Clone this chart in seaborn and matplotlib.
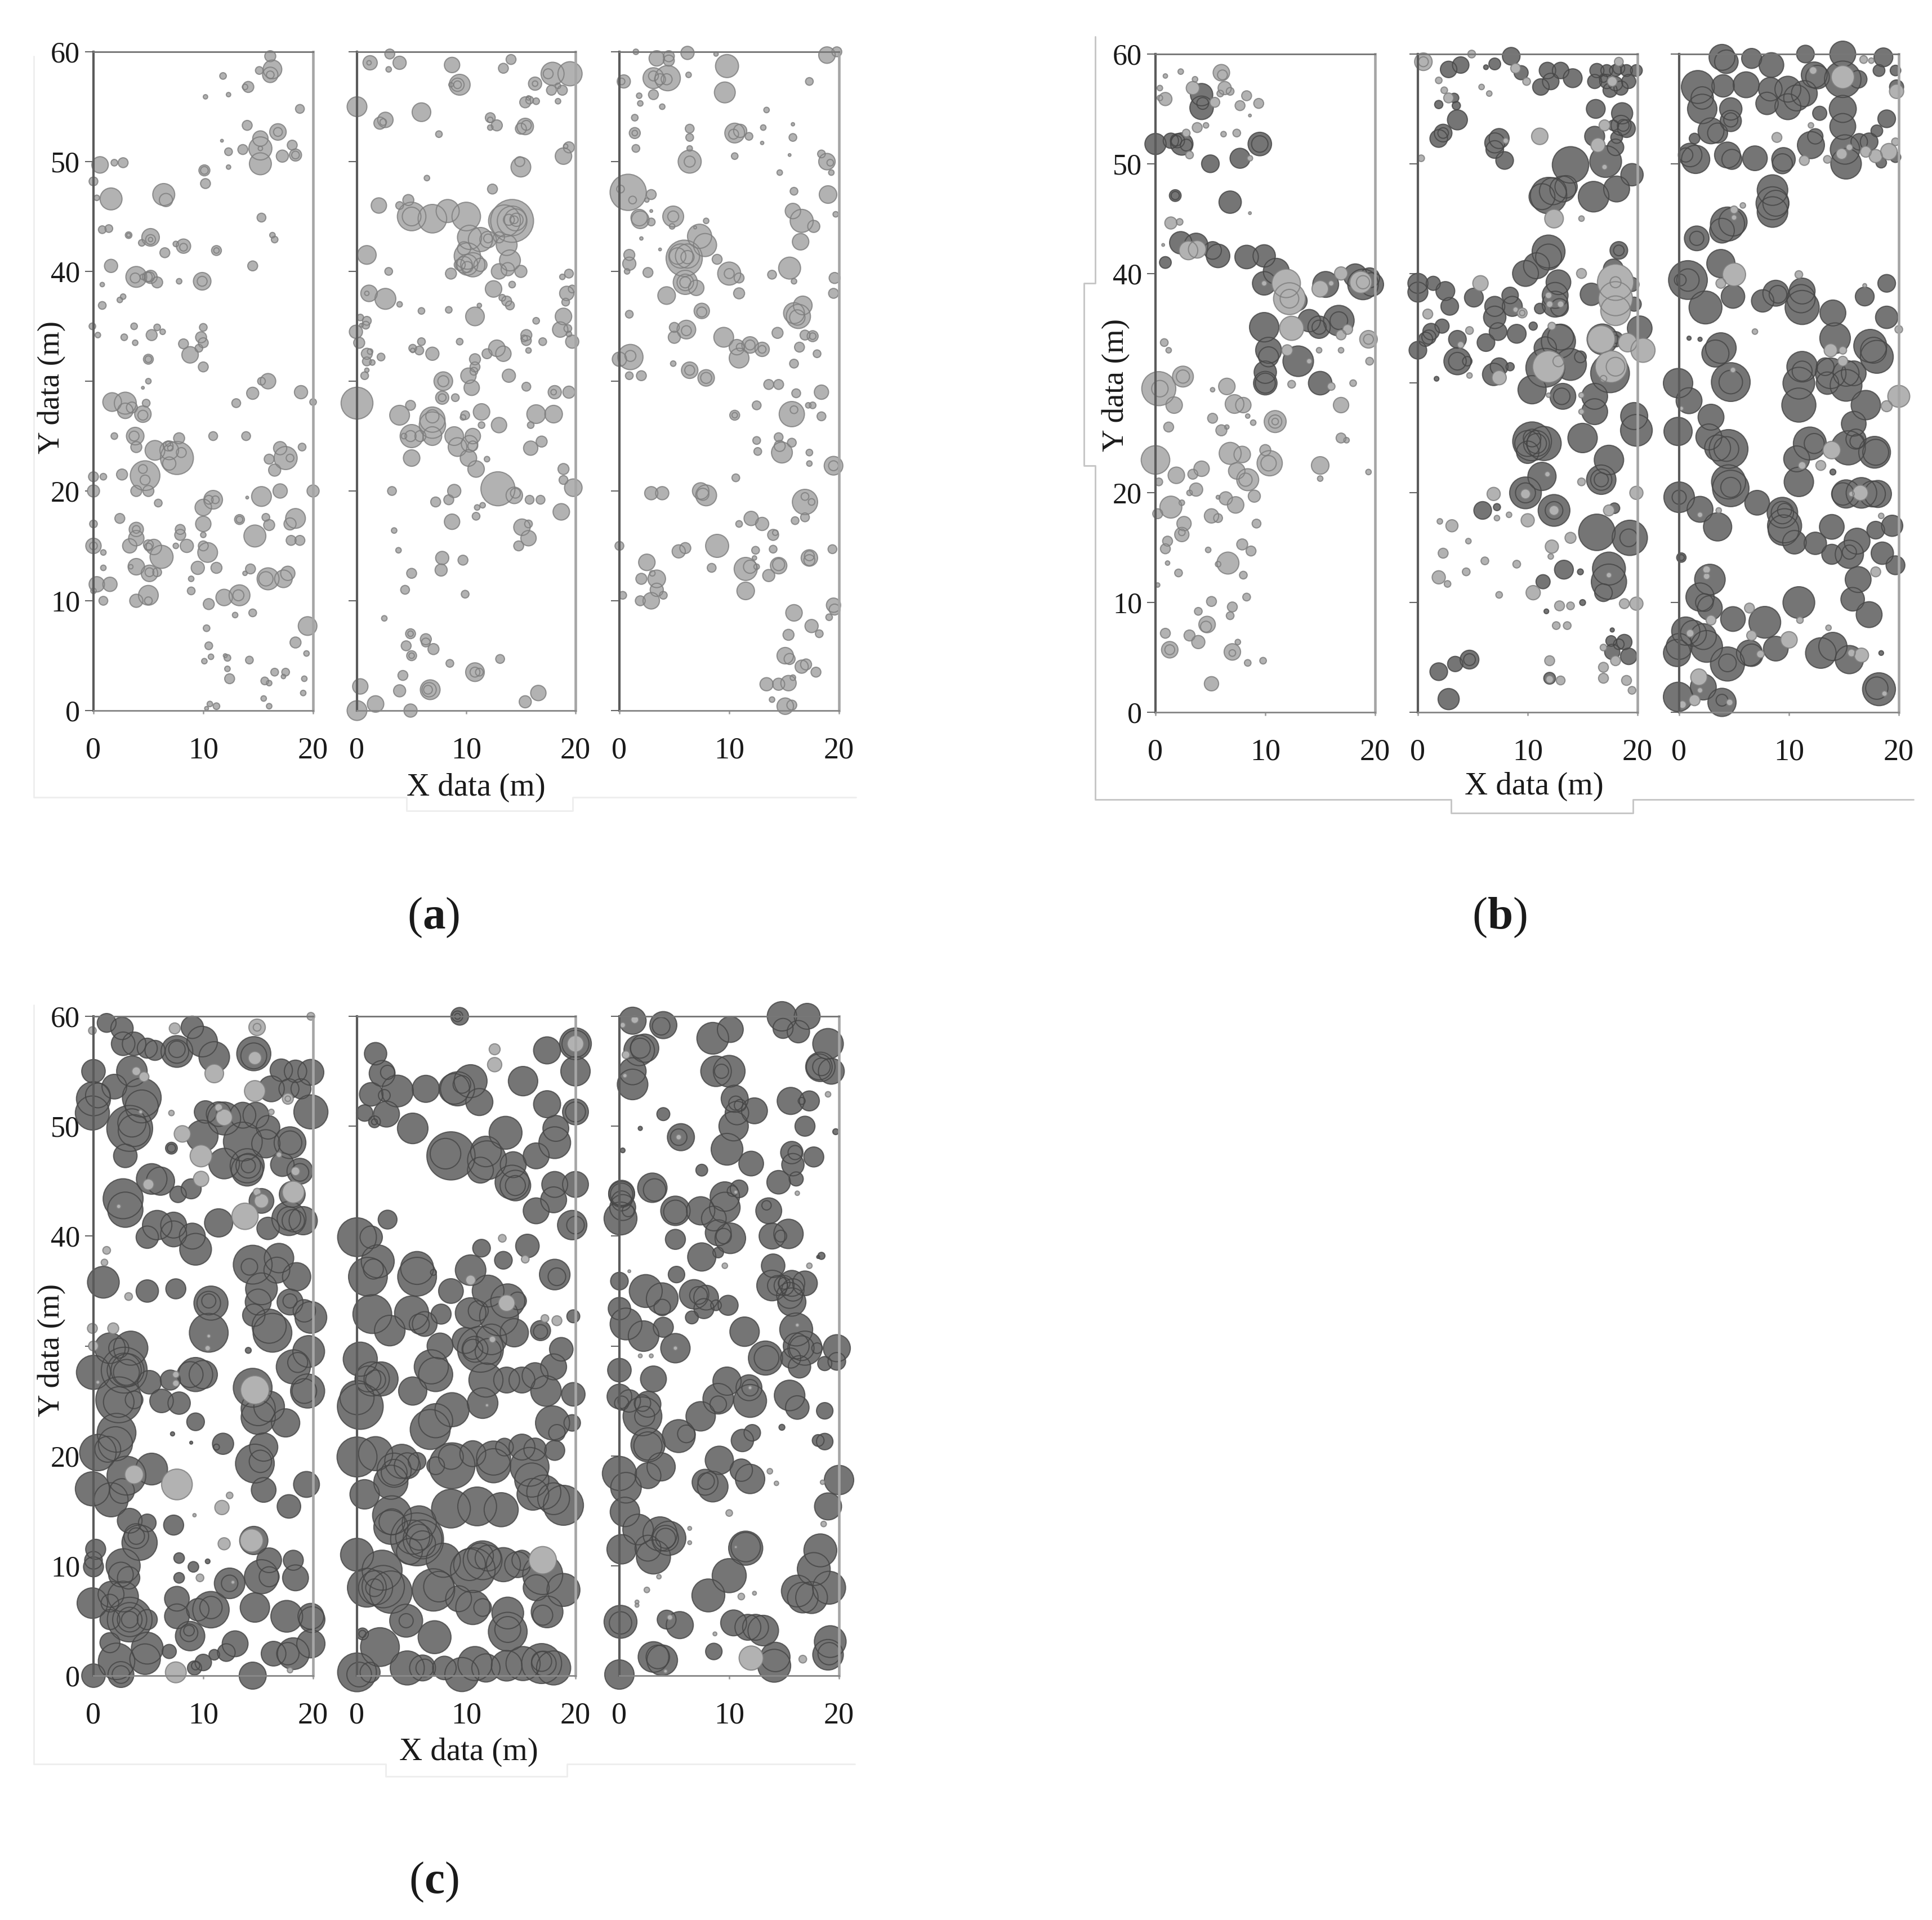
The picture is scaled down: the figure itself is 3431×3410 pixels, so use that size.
import matplotlib
matplotlib.use("Agg")
import matplotlib.pyplot as plt
from matplotlib.lines import Line2D
from matplotlib.patches import Rectangle
import pandas as pd
import seaborn as sns

# every tree is (x in m, y in m, crown diameter in m)
a1_light = [
    (16.1,59.6,1.0),(16.3,58.4,1.7),(16.1,57.9,1.4),(16.1,57.9,.7),(15.1,58.3,.7),(11.8,57.8,.6),(14.1,56.8,1.0),(13.8,56.8,.5),
    (12.3,56.1,.4),(10.2,55.9,.4),(18.8,54.8,.8),(14,53.3,.9),(16.8,52.7,1.5),(16.8,52.7,.8),(15.2,51.2,2.1),(15.2,52.1,1.4),
    (15.2,51.2,.4),(11.7,51.9,.25),(13.6,51.1,.9),(12.3,50.9,.7),(18.1,51.5,.9),(18.4,50.6,1.1),(18.4,50.6,.7),(17.2,50.5,1.1),
    (15.2,49.8,2.0),(12.3,49.5,.4),(.6,49.7,1.5),(1.9,49.9,.6),(2.7,49.9,.9),(10.1,49.2,1.0),(10.1,49.2,.7),(10.2,48.0,.9),
    (0,48.2,.8),(.3,46.7,.5),(1.6,46.6,2.0),(6.4,47,2.0),(6.6,46.5,1.2),(15.3,44.9,.8),(16.3,43.3,.5),(16.5,42.9,.6),
    (.8,43.8,.7),(1.4,43.9,.7),(3.2,43.3,.6),(3.2,43.3,.35),(5.2,43.1,1.6),(5.2,42.9,.9),(5.2,42.9,.4),(4.4,42.6,.6),
    (7.5,42.5,.5),(8.2,42.3,1.3),(8.2,42.2,.7),(6.5,41.7,.9),(11.2,41.9,.9),(11.2,41.9,.5),(14.5,40.5,.9),(1.6,40.5,1.2),
    (3.9,39.5,1.9),(3.8,39.4,.9),(4.5,39.5,.5),(4.9,39.5,.9),(5.1,39.5,.9),(5.2,39.5,1.2),(5.8,39,1.0),(7.8,39.1,.5),
    (9.9,39.1,1.6),(9.9,39.1,.9),(.8,38.8,.4),(2.7,37.7,.5),(2.4,37.4,.5),(.8,36.9,.7),(-.1,35,.6),(.4,34.2,.5),
    (3.7,35,.6),(2.8,34,.6),(3.8,33.5,.5),(5.8,34.9,.6),(5.3,34.2,1.0),(6.3,34.5,.5),(10,34.9,.7),(9.8,34,1.0),
    (10,33.5,.9),(8.2,33.4,.9),(8.8,32.4,1.5),(9.6,33,.7),(5,32,.9),(5,32,.6),(10,31.3,.9),(5,30,.5),(4.5,29.4,.25),
    (15.9,30,1.4),(15.3,30,.7),(14.5,28.9,1.1),(18.9,29,1.2),(13,28,.8),(20,28.1,.6),(1.7,28.1,1.7),(2.9,28,2.0),
    (2.9,27.3,1.4),(3.5,27.6,1),(4.5,27,1.5),(4.5,26.9,.9),(4.8,28,.7),(1.9,25,.6),(3.8,25,1.6),(3.7,25,.9),
    (3.9,24,1.0),(10.9,25,.8),(13.9,25,.8),(7.8,24.8,1),(5.6,23.7,1.8),(6.9,23.7,1.7),(6.8,24.1,.9),(7.6,23,3.0),
    (6.9,22.5,1.2),(8,23.5,.9),(7,23.9,.5),(6.8,24.3,.45),(17,23.9,1.2),(17.5,23,2.1),(17.9,23,.7),(16,22.9,.9),
    (16.5,21.9,1.1),(19,24,.7),(4.7,21.4,2.7),(4.5,22,.8),(4.7,21,.9),(2.6,21.5,1),(0,21.3,.9),(.9,21.3,.6),
    (0,20,1.1),(3.9,20,1),(5,20,1),(5.9,18.9,.7),(15.3,19.5,1.8),(17,20,1.3),(20,20,1.1),(14,19.4,.25),
    (10.9,19.2,1.7),(10,18.5,1.5),(10.5,19.2,.8),(11.1,19.2,.7),(10,17,1.4),(10,16,.5),(13.3,17.4,.9),(13.3,17.4,.6),
    (2.4,17.5,.9),(0,17,.7),(15.7,17.6,.7),(16,16.9,1),(18.4,17.5,1.8),(17.9,17,1.1),(14.7,15.9,2),(18,15.5,.9),
    (18.8,15.5,.9),(3.9,16.5,1.3),(3.9,16.5,.7),(3.9,15.7,1.4),(3.3,15,1.3),(5,15.1,.9),(5.5,14.9,1.4),(6.2,14,2.1),
    (5,14.9,.7),(7.9,16.5,.9),(7.9,16,1),(8.5,15,1.2),(7.5,15,.5),(0,15,1.4),(0,15,.7),(.9,14.4,.5),(10,15,.9),
    (10.4,14.4,1.8),(.9,13,.5),(3.9,13.1,1.5),(3.4,13.1,.4),(5.1,12.5,1.5),(5.1,12.6,.8),(5.8,12.6,.8),(9.5,13,1.2),
    (11.2,13,1),(8.9,12,.5),(8.9,10.9,.7),(14.3,12.9,.9),(13.8,12.5,.4),(15.9,12,2),(15.7,12,1.3),(17.3,12,1.6),
    (17.7,12.5,1.3),(.3,11.5,1.4),(1.5,11.5,1.3),(0,10.9,.5),(13.3,10.5,1.9),(11.9,10.3,1.5),(13.2,10.5,1),(3.9,10,1.2),
    (5,10.5,1.8),(5,10,.7),(.9,10,.8),(10.5,9.7,1),(14.5,8.9,.7),(12.9,8.7,.5),(19.5,7.7,1.7),(18.4,6.2,1),
    (19.4,5.2,.5),(10.3,7.5,.6),(10.5,5.9,.7),(10.7,4.9,.5),(10.1,4.5,.5),(12.2,4.8,.6),(12,5,.35),(12.2,3.8,.5),
    (12.4,2.9,.9),(14.2,4.6,.7),(16.5,3.5,.7),(17.5,3.5,.7),(17.3,3.1,.4),(15.6,2.7,.7),(16,2.5,.5),(19.2,2.9,.5),
    (19.1,1.6,.5),(15.5,1.1,.5),(16,.4,.5),(10.6,.6,.5),(11.2,.4,.6),(10.3,.2,.35),
]
a2_light = [
    (1.2,59,1.3),(1.1,59,.4),(3,59.8,.9),(3.9,59,1.2),(2.9,58.4,.5),(8.7,58.8,1.4),(13.4,58.5,.9),(14.1,59.3,.9),
    (17.9,58,2.1),(19.5,58,2.2),(17.5,58,.9),(9.4,57,1.9),(9.2,57,1.2),(8.6,57,.4),(9.2,57,.7),(16.3,57.1,1.2),
    (16.3,57.1,.5),(17.8,56.5,.9),(18.8,56.5,.9),(18.4,56.9,.5),(18.4,55.5,.5),(0,55,1.8),(5.9,54.5,1.7),(2.6,53.8,1.4),
    (2.1,53.5,1.1),(2.4,53.6,.6),(15.4,55.4,1),(15.8,55.6,.7),(16.4,55.5,.6),(15.7,55.8,.4),(12.2,54,.9),(12.8,53.3,1),
    (12.2,53.1,.5),(12.2,53.8,.5),(15,53,1),(15.4,53.2,1.5),(15.5,53.3,.9),(7.5,52.5,.6),(19.4,51.3,1),(18.9,50.5,1.5),
    (19.1,51.4,.4),(15,49.5,1.8),(14.9,50,.9),(6.4,48.5,.5),(12.4,47.5,.9),(4.7,46.5,1),(3.9,46,.7),(2,46,1.4),
    (5,45,2.6),(5,45,1.7),(6.9,44.8,2.6),(8.3,45.5,2.1),(10,45,2.6),(13.5,44.6,2.9),(14.2,44.6,3.9),(14.2,44.6,2.7),
    (14.5,44.7,2),(14.6,44.7,1.2),(14.4,44.7,.7),(13.9,44.7,1),(10.3,43.1,2.2),(11.3,42.9,2.2),(12,42.9,1.5),(12,43,.8),
    (9.8,42.1,1.2),(10.1,41.4,2.4),(9.8,40.6,1.5),(10.1,40.6,1.9),(10.1,40.4,1),(9.4,40.6,1),(10.6,40.6,2.2),(11.3,40.6,1.2),
    (13,43.1,1),(13.7,42.4,1.9),(14,41,1.9),(13.8,40.2,1.2),(13,40,1.4),(15,40,1.1),(8.6,39.8,1),(.9,41.5,1.7),
    (2.9,40,.7),(14.2,38.8,.6),(1.1,38,1.5),(.9,38,.4),(2.6,37.5,1.9),(3.9,37,.5),(12.5,38.4,1.5),(13.3,37.6,.6),
    (13.7,37.3,.9),(14,36.9,.8),(5.9,36.4,.6),(8.4,36.5,.6),(10.8,35.9,1.7),(11.2,36.9,.4),(19.4,39.8,.8),(18.8,39.5,.5),
    (19.2,38,1.3),(19.7,38.4,.7),(19.1,37.2,.7),(16.4,35.5,.6),(18.9,35.9,1.5),(18.6,34.7,1.4),(19.3,34.8,.7),(19.7,33.6,1.2),
    (19.4,34.3,.5),(.9,35.5,.8),(.8,35.1,.7),(.3,35.8,.6),(-.1,34.5,1.2),(.2,33.5,1),(.4,35.1,.35),(.9,32.5,1),
    (1.2,32.7,.5),(.9,31.8,.8),(1.4,31.7,.5),(2.2,32.2,.7),(.9,31,.4),(.7,30.5,.7),(5.9,33.6,.7),(5.1,33,.7),
    (5.7,32.8,.8),(5.1,32.8,.4),(6.9,32.5,1.2),(9.4,33.6,.6),(12.8,33,1.5),(13.4,32.5,1.4),(11.9,32.5,.9),(10.8,32,1),
    (10.8,31.3,.9),(10.7,30.9,.7),(10.2,30.5,1.4),(15.5,34.2,1),(15.5,33.7,.9),(15.7,32.8,.5),(17,33.6,.7),(15.3,33.9,.6),
    (13.9,30.5,1.2),(15.5,29.5,.8),(10.5,29.4,1.4),(7.9,30,1.7),(7.9,30,1),(7.8,28.5,1.2),(7.8,28.5,.7),(9,28.5,.7),
    (0,28,2.9),(4.9,27.8,.9),(3.9,26.9,1.8),(11.4,27.2,1.5),(9.9,26.9,.8),(9.7,26.7,.5),(13,26,1.4),(11.4,26,.6),
    (16.4,27,1.7),(18,27,1.6),(15.9,26,.6),(18.1,29,1.2),(19.4,29,1.1),(18,29,.5),(6.9,26.5,2.3),(6.9,26.8,1.2),
    (6.9,26,2.4),(6.9,25,1.7),(5,25,2.1),(4.9,25,1),(4.3,25,.5),(5.8,25,1),(5,23,1.5),(8.9,25,1.7),
    (9.2,24,1.7),(10.6,25,1.4),(10.3,24.3,1.5),(10.6,24.1,.9),(10.2,23,1.5),(10.9,22,1.5),(11.9,22.9,.5),(16.9,24.5,1),
    (15.9,23.9,1.3),(18.9,22,1),(18.9,21,.8),(19.8,20.3,1.6),(12.9,20.2,3.1),(14.4,19.6,1.5),(14.5,19.8,.9),(3.2,20,.8),
    (8.9,20,1.2),(8.4,19.2,.9),(7.2,19,.9),(15.8,19.2,.8),(16.8,19.2,.8),(18.7,18.1,1.5),(11.5,18.7,.5),(11,18.5,.5),
    (10.9,17.7,.7),(8.7,17.2,1.4),(3.4,16.4,.5),(15.1,16.7,1.5),(15.7,17,.7),(15.7,15.7,1.4),(14.8,15,.9),(3.8,14.6,.5),
    (7.8,13.9,1.2),(9.7,13.7,.9),(7.7,12.8,1.1),(5,12.5,.9),(4.4,11,.8),(9.9,10.6,.7),(2.5,8.4,.5),(4.9,7,.9),
    (4.9,7,.5),(6.3,6.5,1),(6.3,6.2,.8),(4.5,5.9,.9),(5,5,.9),(5,5,.5),(7,5.6,1),(8.5,4.3,.7),
    (13.1,4.7,.8),(10.8,3.5,1.7),(10.8,3.5,.9),(11.2,3.5,.7),(4.2,3.2,.9),(.3,2.2,1.4),(3.9,1.8,1.1),(6.7,1.9,1.8),
    (6.6,1.9,1.3),(6.5,1.9,.8),(15.4,.8,1.1),(16.6,1.6,1.4),(1.7,.6,1.5),(0,0,1.8),(4.9,0,1.2),
]
a3_light = [
    (3.4,59.4,1.4),(4.5,59.6,1),(4.5,59.2,1),(6.2,59.9,1.2),(1.5,60,.5),(8.8,59.8,.4),(9.8,58.7,2.1),(9.6,56.3,1.9),
    (18.9,59.7,1.5),(19.8,60,.9),(17.3,57.3,.7),(6.3,57.9,.5),(.4,57.3,1.2),(.2,57.3,.6),(3.1,57.6,1.9),(4.4,57.6,2.3),
    (4.3,57.5,1),(3.1,57.8,.9),(3.1,56.1,.9),(3.7,57.5,1),(1.8,56,.5),(1.9,55.3,.5),(3.9,55,.5),(1.4,54,.6),
    (1.4,52.6,1),(1.4,52.6,.5),(1.5,51.2,.7),(6.4,53,.8),(6.4,52.2,.7),(6.4,51.2,.5),(6.4,50,2.1),(6.4,50,1),
    (10.5,52.6,1.8),(11,52.8,1.2),(10.4,52.5,.9),(11.8,52.3,.7),(13.4,54.7,.5),(13.1,53.1,.5),(13,51.7,.3),(10.5,50.5,.6),
    (15.8,53.4,.3),(15.8,52.2,.7),(15.5,50.6,.25),(18.4,50.7,.7),(18.9,50,1.5),(19.2,49.9,.6),(19.3,49,.5),(14.6,49,.5),
    (15.9,47.3,.7),(19,47,1.6),(.8,47.2,3.3),(.1,47.5,.7),(1.2,46.5,.7),(2.9,47,.9),(2.5,46.5,.4),(2.9,45.5,.25),
    (19.7,45.2,.5),(1.8,44.9,1.5),(1.9,44.7,1.6),(2.9,44.5,.7),(4.9,45,1.9),(4.9,45,1),(4.8,44.1,.5),(7.9,44.6,.5),
    (6.9,44,.25),(2,43,.3),(3.7,42,.25),(15.8,45.5,1.4),(16.6,44.6,2.1),(17.7,44.1,1.1),(16.5,42.7,1.5),(7.3,43.2,2.2),
    (7.8,42.4,2.1),(8.9,41.1,.9),(.9,41.5,1),(.9,40.7,1.2),(.7,40,.5),(2.6,39.9,.9),(5.9,41.2,3.3),(6.2,41.4,2.2),
    (6.2,41.3,1.2),(5.6,41.4,2.2),(5.3,41.4,1.5),(10,39.8,2.1),(10,39.8,.9),(10.9,39.4,.9),(10.9,38,1),(13.9,39.7,.8),
    (15.5,40.3,2),(15.9,39.1,.5),(19.6,39.4,1),(19.5,38,.9),(6,39,2.2),(6,39,1.5),(6,39,1),(7,38.5,1.4),
    (4.3,37.8,1.6),(.9,36.1,.7),(7.5,36.4,1.4),(7.5,36.3,.9),(16.7,36.9,1.7),(15.9,36.2,1.9),(16.3,35.9,2.2),(16.2,35.8,1.4),
    (5,34.9,.9),(6.1,34.7,1.7),(6.1,34.6,.9),(5,34,1.1),(9.5,34,1.8),(14.4,34.4,1),(17.6,34.1,1),(16.9,34.2,.9),
    (17.6,34.1,.6),(1,32.2,2.3),(1,32.3,1),(0,32,1.3),(10.7,33.1,1.4),(10.9,32.1,1.8),(11.9,33.3,1.5),(11.9,33.3,.9),
    (13,32.9,1.3),(13,32.9,.7),(11,33.1,.7),(16.4,33.1,.9),(18,32.5,.7),(4.9,31.6,.5),(15.9,31.6,.8),(6.4,31,1.5),
    (6.4,31,.9),(7.9,30.3,1.5),(7.9,30.3,1),(.9,30.5,.7),(2,30.5,.9),(13.6,29.7,.9),(14.5,29.7,.9),(16.1,28.9,.8),
    (18.4,29,1.3),(17.6,27.8,.6),(17.2,27.8,.5),(12.5,27.8,.8),(15.7,27,2.3),(15.9,27.4,.7),(18.4,26.8,.8),(10.5,26.9,.9),
    (10.5,26.9,.5),(12.5,24.6,.7),(12.6,23.6,.7),(14.8,23.5,1.9),(14.5,24.9,.8),(14.6,24.1,1),(15.7,24.4,.8),(17.3,23.5,.6),
    (17.3,22.5,.5),(19.5,22.3,1.7),(19.5,22.3,.9),(10.6,21.2,.7),(2.9,19.8,1.2),(3.9,19.8,1.2),(7.4,20,1.5),(7.9,19.6,1.9),
    (7.6,19.7,1.1),(16.9,19,2.3),(16.9,19.5,.7),(17.5,19,.6),(16.9,17.6,.8),(16,17.3,.7),(12,17.5,1.3),(13,17,1.2),
    (10.9,17,.6),(14,16,1),(14.2,16.2,.5),(0,15,.8),(5.4,14.5,1.2),(6,14.8,1),(8.9,15,2.1),(12.4,14.6,.7),
    (14,14.7,.7),(19.4,14.7,.8),(17.3,13.9,1.5),(17.3,14.1,.9),(17.3,13.7,1),(12.3,13.9,.4),(2.5,13.5,1.5),(2,12,1),
    (3.4,12,1.6),(3,12.5,.5),(3.4,11,1.2),(2.9,10,1.5),(1.9,10,.9),(4,10.5,.7),(.3,10.5,.7),(8.4,13,.8),
    (11.5,12.9,2.1),(11.9,13.1,1.2),(12.5,13.1,.5),(14.5,13.3,1.1),(14.5,13.2,1.5),(13.6,12.3,1.1),(11.5,10.9,1.6),(19.5,9.6,1.3),
    (19.6,9.2,1),(19.1,8.5,.6),(15.9,8.9,1.5),(17.5,7.7,1.2),(18.2,7,.7),(15.4,6.9,1),(15.1,5,1.5),(15.5,4.7,1),
    (16.6,4,1.2),(17,4.2,1),(17.9,3.5,.9),(13.4,2.4,1.2),(14.5,2.4,1.1),(15.4,2.5,1.4),(15.8,3,.5),(13.9,1,.5),
    (15.1,.4,1.5),(15.7,.5,.9),
]
b1_dark = [
    (4.2,56.3,1.9),(4.2,55.1,2),(4.3,55.5,1),(0,51.8,1.8),(1.4,52.1,1.3),(2,52.1,1.2),(2.4,51.8,1.9),(1.9,52.1,.9),
    (2.8,51.7,1),(9.5,51.8,2),(9.5,51.8,1.4),(7.7,50.5,1.7),(5,50,1.5),(1.8,47.1,1),(1.8,47.1,.7),(6.8,46.5,1.9),
    (.9,41,1),(2.3,42.8,1.9),(3.7,42.6,2.0),(5.2,42.1,1.5),(5.7,41.6,2),(8.3,41.5,2),(9.9,41.6,1.9),(11,40.2,2.2),
    (9.9,39.1,2),(12.9,37.5,1.7),(15.5,39,2.2),(18.2,39.8,2),(19.7,39,2),(19.5,39.6,1.7),(18.9,39,2.6),(9.9,35.1,2.5),
    (14,35.7,1.9),(14.9,35.1,1.9),(14.9,35.1,1.2),(16.7,35.7,2.6),(16.7,35.7,1.5),(10.3,33,2.2),(10.3,32.4,1.7),(13,32,2.6),
    (10,31,1.9),(10,30,2),(10,30,1.7),(15,30,2),
]
b1_light = [
    (6,58.3,1.5),(6.1,58.1,.9),(.9,58,.4),(2.3,58.4,.5),(3.6,57.7,.5),(3.4,56.9,1.2),(.4,56.9,.5),(.9,55.9,1.2),
    (.4,56,.5),(6.3,56.9,1.2),(5.9,56.4,.6),(6.8,56.6,.7),(8.3,56.2,.9),(9.4,55.5,.9),(7.7,55.3,.9),(8.6,54.4,.25),
    (5.4,55.6,.9),(3.8,53.3,.9),(4.6,53.5,.5),(6.2,52.7,.5),(7.4,52.8,.7),(3.1,50.8,.7),(2.8,52.8,.7),(8.6,50.5,.5),
    (8.6,45.5,.25),(1.4,44.6,1.1),(2.2,44.7,.6),(.7,42.6,.25),(3,42.1,1.7),(3.8,42.2,1.6),(9.9,39.1,.5),(11.9,39.1,2.6),
    (12.2,37.7,2.9),(12.2,37.7,1.7),(15,38.6,1.5),(16,39.1,.5),(16.9,40,1.2),(18.7,39.2,2),(18.9,39.2,1.2),(12.4,35,2.2),
    (17.5,34.9,.9),(16.9,34.4,.9),(19.4,34,1.6),(19.4,34,.9),(.8,33.7,.7),(1.2,33,.5),(12,33,1),(14,32,.5),
    (14.9,33,.5),(16.9,33,.5),(19.5,32,.7),(12.4,29.9,.7),(16,29.7,.7),(18,30,.6),(.3,29.5,3.1),(.4,29.5,1.5),
    (2.5,30.6,1.9),(2.5,30.6,1.2),(1.7,28,1.5),(5.2,29.4,.4),(6.5,29.7,1.5),(7.2,28.1,1.7),(8,28,1.4),(5.2,26.8,.9),
    (8.4,27,.4),(8.9,26.4,.5),(10.9,26.5,2),(10.9,26.5,1.2),(10.9,26.5,.6),(1.2,26,.9),(6,25.7,1),(6.5,26,.4),
    (16.9,28,1.4),(16.9,25,.9),(17.4,24.8,.5),(0,23,2.6),(6.8,23.6,2),(7.9,23.5,1.5),(10,23.9,1),(10.4,22.7,2.3),
    (10.3,22.7,1.4),(15,22.5,1.6),(15,21.3,.5),(19.4,21.9,.5),(1.9,21.6,1.5),(4.2,22.2,1.4),(3.4,21.7,.9),(.3,21,.7),
    (3.7,20.3,1.2),(3.1,20,.5),(7.4,22,1.5),(8.4,21.2,2),(8.2,21.2,1.2),(9,19.7,1.1),(6.4,19.5,1.2),(5.7,19.6,.35),
    (7.3,18.9,1.5),(1.4,18.7,2),(2.4,19.1,.5),(5.1,17.9,1.3),(5.7,17.7,.8),(.2,18.1,.9),(9.2,17.2,.8),(2.6,17.2,1.3),
    (2.4,16.2,1.3),(2.4,16.4,.6),(1.1,15.6,.9),(.9,14.9,.9),(1.1,13.6,.4),(2.1,12.7,.7),(.2,11.6,.4),(4.8,14.8,.5),
    (7.9,15.3,1),(8.7,14.7,.9),(6.6,13.6,2),(5.7,13.5,.5),(8,12.5,.7),(8.3,10.5,.7),(5.1,10.1,.9),(7,9.6,.9),
    (6.8,8.8,.7),(3.9,9.2,.7),(4.7,8,1.5),(4.6,7.8,1),(3.1,7,1),(3.9,6.4,1.2),(.9,7.2,.9),(1.3,5.7,1.5),
    (1.3,5.7,.9),(7,5.5,1.5),(7,5.4,.6),(7.5,6.4,.5),(8.4,4.5,.6),(9.8,4.7,.6),(5.1,2.6,1.3),
]
b2_dark = [
    (2.8,58.6,1.4),(3.9,59,1.4),(8.5,59.8,1.5),(7,59.1,1),(6.2,58.8,.4),(9.4,58.3,1.2),(11.8,58.5,1.4),(13,58.5,1.4),
    (12.1,57.5,1.4),(14.1,57.8,1.6),(11.2,57,1.4),(3.3,56,.8),(1.9,55.4,.7),(3.5,55.3,.7),(3.6,54,1.7),(2.3,52.8,1.5),
    (1.9,52.3,1.5),(2.3,52.8,.9),(7,51.9,1.7),(7.4,52.3,1.7),(7,51.3,1.5),(7.9,50.3,1.5),(16.3,58.5,1.2),(16.1,57.5,1.2),
    (17.2,58.5,1),(17.2,57.5,1.2),(18,58.5,1),(18,57.3,1.2),(18.3,58.7,1),(19,58.5,1),(19.2,57.5,1.2),(19.9,58.5,1),
    (18.5,56.9,1.2),(17.5,56.7,1.2),(16.9,57.8,.7),(16.2,55,1.6),(18.6,54.6,1.8),(16.1,52.5,1.7),(18.5,53.5,1.7),(18.7,53.5,1),
    (17.8,53.5,.9),(19,53.2,1.5),(18.1,52.4,1),(18,51.5,1.4),(17.1,50.2,2.7),(13.9,49.9,3.1),(19.5,49,1.9),(11.9,47.1,3.1),
    (11.3,47,2.2),(12.3,47.5,2.3),(13.2,47.7,2.2),(13.5,47.9,1.9),(16,47,2.6),(18.1,47.7,2.2),(11.9,42,2.8),(11.9,41.5,2.2),
    (10.8,40.7,2.2),(9.8,40,2.2),(18.3,42.1,1.5),(18.3,42.1,.9),(0,39.1,1.7),(0,38.3,1.7),(1.4,39.1,1.2),(2.5,38.4,1.6),
    (5.1,37.8,1.6),(2.9,37,1.5),(12.8,39.2,2.1),(12.5,38,2.2),(12.5,37.2,2.2),(12.9,36.9,1.5),(11.1,36.8,.9),(10.5,35.2,.7),
    (7,37,1.7),(7,36,1.9),(8.4,38,1.4),(8.6,37,1.7),(15.8,38.1,1.9),(17.8,40.4,1.7),(19.5,39,1.2),(19.7,37.2,1.2),
    (18,36.4,1.7),(20.2,35,2.1),(16.8,34,2.6),(18,34,1.3),(18,34,.7),(17.5,30.9,3.3),(17.7,31.7,1.7),(16.8,31.5,.9),
    (2.2,35.2,1.2),(1.2,34.7,1.4),(.7,34,1.2),(3.6,34,1.5),(0,33,1.5),(1,34.2,1.2),(7.3,34.7,1.5),(6.2,33.7,1.5),
    (9,34.5,1.6),(3.6,32,2.3),(3.6,32,1.5),(4.5,32,.8),(1.7,30.4,.4),(7.4,31.5,1.5),(6.9,30.8,1.9),(8.4,31.5,.7),
    (12.8,33.8,2.9),(11.6,33.2,1.9),(13,34.2,2.2),(11.6,31.4,3.3),(13.9,31.7,2.7),(14.8,32.4,1),(10.4,29.4,2.4),(13.2,28.8,2.2),
    (13.1,28.8,1.4),(16.1,28.8,2.2),(16.1,27.4,2.2),(19.7,27,2.3),(19.9,25.7,2.7),(10.4,24.7,3.3),(10.8,24.5,2.2),(10.4,25,1.5),
    (10.8,24.5,1.7),(11.5,24.5,2.9),(10,24.5,2.2),(10,23.7,1.9),(15,25,2.5),(17.4,23,2.5),(11.3,21.5,2.4),(9.8,20,2.7),
    (9.8,20,1.7),(16.7,21.2,1.8),(16.7,21.2,2.5),(16.7,21.2,1.2),(7.2,18.7,.6),(5.9,18.4,1.5),(12.4,18.4,2.7),(12.4,18.4,1.5),
    (17.9,18.6,.9),(16.3,16.4,3.1),(19.3,15.9,3),(19.2,15.9,1.5),(14.8,12.8,.5),(13.3,13,1.6),(11.4,11.9,1.2),(17.4,13.1,2.8),
    (17.4,11.9,3),(16.9,10.9,1.5),(15,10,.5),(11.7,9.2,.4),(17.7,7.5,.35),(17.6,6.5,.9),(18.8,6.4,1.3),(17.7,5.5,1.3),
    (19.2,5.1,1.4),(18.3,6.2,.9),(12,3.1,1),(4.7,4.8,1.6),(4.7,4.8,1),(3.4,4.4,1.3),(1.9,3.7,1.5),(2.8,1.2,1.8),
]
b2_light = [
    (.5,59.3,1.6),(.5,59.3,.9),(4.9,60,.7),(8.9,58.7,.9),(9.9,57.5,.7),(1.9,57.6,.6),(2.4,56.7,.6),(5.8,57,.5),
    (6.5,56.4,.5),(2.8,56,.9),(8,52.1,.5),(11.1,52.5,1.5),(.3,50.5,.6),(17.7,57.5,.9),(18.3,59.3,.8),(17,53.5,1),
    (16.4,51.7,1.3),(17,49.7,.5),(12.4,45,1.7),(14.9,45,.5),(14.9,40,.9),(5.7,39.1,1.4),(.9,36.3,.9),(11.9,38,.6),
    (13,37.2,.6),(12,37.2,.6),(12.2,35.2,.7),(9.5,36.4,.9),(8.9,36.7,.5),(18,39.2,3.3),(18,39.2,1),(18,37.7,3.1),
    (18,36.6,2.7),(16.7,34,2.5),(20.5,33,2.2),(19.1,33.7,1.7),(17.6,31.5,2.9),(18,31.5,1.7),(16.9,30.4,.6),(4.7,34.8,.7),
    (3.9,33.5,.6),(9.5,36.4,.5),(7.4,30.5,1.3),(4.7,30.7,.5),(11.9,31.5,2.9),(12.8,32,1),(11.9,28.9,.4),(14.9,28.9,.5),
    (14.9,27.4,.5),(9.8,19.9,.9),(11.8,21.7,.5),(14.9,21,.7),(19.9,20,1.2),(6.9,19.9,1.2),(7.2,17.7,.5),(8.3,18,.5),
    (10,17.5,1.2),(12.4,18.4,.9),(17.4,18.4,1),(3.1,17,1.1),(2,17.4,.5),(13.9,15.9,1),(4.6,15.6,.5),(12.2,15.1,1.2),
    (12.1,14.2,.5),(2.3,14.5,.9),(6.1,13.8,.7),(9,13.5,.7),(4.4,12.8,.7),(1.9,12.3,1.2),(2.7,11.7,.6),(17.4,12.5,.5),
    (10.5,10.9,1.3),(7.4,10.7,.6),(18.8,9.9,.9),(19.9,9.9,1.2),(12.9,9.7,.9),(13.9,9.7,.7),(12.6,7.9,.7),(13.6,7.9,.7),
    (16.9,5.9,.6),(18,4.7,.9),(12,4.7,.9),(16.9,4.1,.9),(12,3,.7),(13,2.9,.8),(16.9,3.1,.9),(19,2.9,.9),
    (19.5,2,.7),
]
b3_dark = [
    (3.9,59.7,2.2),(4.3,59.3,2),(6.6,59.6,1.7),(8.4,59,2.1),(11.5,60,1.5),(14.9,60,2.2),(18.6,59.7,1.6),(18.2,58.5,1),
    (19.7,58.5,.9),(19.8,57,1.2),(1.7,57,2.8),(2.1,56,1.9),(4,57.1,1.9),(2.1,55,2.5),(4.7,55,1.9),(4.7,53.9,1.8),
    (4.7,54,1.2),(6.1,57.2,2.2),(8.3,56.8,2),(8,55.5,1.9),(9.9,56.8,2.2),(9.9,55.2,2.2),(10.7,56,2.2),(12.3,58.1,2.2),
    (11.4,56.4,2.2),(12.6,57.9,2),(12.8,54.6,1.2),(14.9,55,2.3),(14.9,57.7,3.1),(16.3,57.7,1.5),(14.9,53.4,2.2),(18.9,54.1,1.5),
    (18,53,1),(2.9,53,2.2),(3.5,52.8,1.7),(1.4,52.3,.9),(1,50.8,2),(1.5,50.4,2.4),(.6,50.8,1.2),(4.4,50.8,2.2),
    (4.8,50.4,1.7),(6.9,50.5,2.1),(9.5,50.4,2),(9.4,50,1.7),(12,51.7,2.3),(12.4,52.5,1.3),(15.1,51.3,2.5),(15.2,50,2.6),
    (16.4,52,1.4),(17.3,52,1.5),(19.7,50.6,.9),(18.4,50.1,.9),(8.5,47.6,2.6),(8.5,46.4,2.8),(8.5,45.6,2.6),(8.8,46.4,2.2),
    (4.9,44.7,2.4),(4.4,44.5,2.9),(3.9,43.9,2.1),(1.6,43.2,2.1),(1.6,43.2,1.2),(3.8,40.9,2.4),(.8,39.4,3.3),(.8,39.4,1.9),
    (.1,39.4,1),(4.9,37.9,2),(2.4,36.9,2.8),(8.8,38.2,2.2),(9,38.1,1.5),(7.6,37.5,1.9),(11.2,38.4,2.2),(11.1,37.7,2.4),
    (11.2,36.9,2.9),(14,36.4,2.2),(18.9,39.1,1.5),(16.9,37.9,1.6),(18.9,36,1.9),(.9,34.1,.35),(1.9,34,.35),(3.8,33.2,2.6),
    (3.3,32.7,2.3),(4.7,30.1,3.3),(4.7,30.1,2),(14.2,34.1,2.6),(17.4,33.4,2.8),(17.7,33,2.2),(18,32.4,2.8),(11.2,31.5,2.6),
    (11.2,31.1,1.7),(10.9,30,2.7),(10.9,28,2.9),(13.3,31.5,1.5),(13.8,30.9,2.6),(15.2,30.9,2.2),(15.2,29.8,2.7),(13.5,30,1.9),
    (15.9,30.9,2.1),(17,28,2.5),(-.1,30,2.5),(.9,28.4,2.2),(2.9,26.9,2.2),(-.1,25.6,2.4),(2.7,25.1,2.2),(3.5,24.1,2.2),
    (4.3,24,2.1),(4.5,24,3.3),(15.9,26.3,2.1),(11.9,24.5,2.8),(12.3,24.5,1.7),(10.7,23.1,2.2),(15.4,24.1,2.9),(16.1,24.9,1.7),
    (16.2,24.7,1.2),(17.9,23.7,2.2),(17.8,23.7,2.7),(14,21.9,.5),(10.9,21,2.5),(4.5,21,2.9),(4.7,20.5,1.7),(4.7,20.4,3.1),
    (0,19.6,2.6),(0,19.6,1.2),(1.9,18.5,2.2),(3.5,16.9,2.4),(7.1,19.1,2.1),(9.4,18.2,2.6),(9.4,18.2,1.9),(9.6,18.4,1.2),
    (9.6,17,2.9),(9.5,16.6,2.6),(10.5,15.5,2),(14.9,19.9,1.9),(15.2,19.9,2.4),(16.6,20,2.6),(18.1,19.9,2.3),(17.6,19.9,2.2),
    (13.9,16.9,2.1),(16.2,15.6,2.2),(12.4,15.4,1.9),(13.9,14.4,1.7),(15.5,14.4,2.4),(15.5,14.6,1.2),(17.9,16.6,1.5),(19.4,17,1.8),
    (18.5,14.5,1.9),(19.7,13.4,1.6),(.2,14.1,.8),(.2,14.1,.5),(2.8,12.1,2.6),(1.9,10.5,2.4),(2.3,10,1.5),(2.8,9.5,2.1),
    (16.3,12.1,2.2),(15.8,10.3,2),(17.3,8.9,2.2),(10.9,10,2.7),(4.9,8.5,2.1),(7.8,8.2,2.7),(.6,7.4,2.4),(1.3,7.2,2.2),
    (2.2,6.9,2.2),(-.2,5.4,2.3),(0,6,2.2),(2.5,6,2.7),(4.4,4.4,2.9),(4.4,4.5,1.5),(6.4,5.4,2.2),(8.8,5.8,2.1),
    (6.6,5.2,1.9),(12.9,5.4,2.6),(14,6,2.4),(15.5,4.8,2.4),(18.4,5.4,.4),(2.2,2.3,2.2),(-.1,1.4,2.5),(3.9,.9,2.4),
    (3.9,1.1,1),(18.2,2.1,2.8),(18,2.2,1.9),
]
b3_light = [
    (14.9,57.9,2.1),(12.2,58.5,.7),(16.8,59.5,.7),(17.5,59.4,.5),(19.8,56.6,1.3),(8.9,52.4,.9),(11.4,50.3,.9),(12,53.5,.5),
    (13.5,50.4,.7),(14.8,50.9,1),(15.5,51.5,.6),(17,51.1,1),(17.9,50.7,1.2),(19.1,51.1,1.5),(19.7,52,.7),(5.8,46.2,.5),
    (5,45.8,.7),(5,45.1,.5),(5,39.9,2.1),(3.8,39.1,.9),(10.9,39.9,.7),(6.9,34.7,.5),(20,34.9,.7),(16.9,38.9,.35),
    (4.9,31.2,.5),(13.8,33,1.2),(14.9,33,.7),(14.9,32,.9),(.2,27.7,.4),(20,28.8,2),(18.9,27.9,1),(13.9,23.9,1.6),
    (12.9,22.5,.9),(11.2,22.5,.7),(16.5,20,1.4),(15.7,19.9,.5),(1.9,18,.5),(3.6,18.4,.5),(18.4,17.9,.5),(2.5,13,.7),
    (2.5,12.4,.6),(2.9,8.4,.9),(6.4,9.5,.9),(11,8.4,.6),(13.6,7.7,.5),(17.9,12.8,.9),(1,7.2,.7),(6.6,7,.9),
    (7.4,5.3,.7),(10,6.6,1.5),(15.7,5.4,.7),(16.6,5.2,1.3),(1.8,3.2,1.5),(1.9,2,.5),(1.4,1.1,1),(.3,.7,.7),
    (4.6,.9,.6),(18.7,1.7,.5),
]
c1_dark = [
    (1.2,59.4,1.6),(2.6,58.9,1.9),(2.7,57.5,2),(3.7,57.5,2),(4.9,57.1,1.7),(5.6,56.9,1.7),(9,59,1.9),(7.6,56.8,2.7),
    (7.6,56.8,2),(7.6,57,1.4),(9.9,57.7,2.6),(11,56.3,2.6),(14.6,56.6,2.9),(14.6,56.4,2.2),(0,55,2),(3.5,55,2.6),
    (17.1,55.1,1.9),(18.4,55,1.9),(19.8,54.9,2.2),(16.2,53.4,2.2),(17.8,53.4,1.7),(18.9,53.4,1.7),(0,52.5,2.9),(.4,52.8,2.1),
    (-.1,51.2,2.9),(1.9,53.6,2.1),(4.4,52.6,3.3),(4.4,51.8,2.8),(19.8,51.3,2.9),(3.3,49.8,3.9),(3.5,50.3,2.4),(3.7,49.6,2.7),
    (2.9,47.3,2),(7.1,48,1),(7.1,48,.7),(10.2,51.3,1.9),(11.4,51.1,2.1),(11.9,50.7,2.8),(13.6,51,2.2),(14.8,51,2.2),
    (15.9,49.9,2),(9.9,49.1,2.7),(13.6,48.6,3.3),(15.7,48.4,2.4),(17.9,48.5,2.7),(17.9,48.5,2),(11.9,46.6,2.6),(14,46.4,2.9),
    (14.1,46.4,2.1),(14.1,46.4,1.2),(14,46,2.7),(17.2,46.5,2),(18.8,45.9,2.2),(18.8,45.8,1.5),(5.3,45.2,2.6),(6.1,45,2.4),
    (7.7,43.8,1.4),(8.9,44.3,1.7),(2.7,43.4,3.4),(2.9,42.4,3),(15.3,43.2,2.1),(18.1,43.8,2.2),(17.8,41.6,2.9),(17.8,41.6,2),
    (19.1,41.4,2.4),(18.2,41.4,1.9),(15.9,40.7,1.9),(5.8,41,2.5),(4.9,39.9,1.9),(7.3,41,2.2),(7.3,40.2,2.2),(9,40,2.2),
    (9.3,38.8,2.7),(11.4,41.2,2.4),(.9,35.8,2.7),(4.9,35,1.9),(7.5,35.2,1.7),(14.5,37.4,3.3),(14.2,37.2,1.4),(16.9,38,2.5),
    (16.7,36.9,2.2),(18.5,36.3,2.4),(15.3,35.2,2.7),(15,34,2.2),(14.6,32.8,1.9),(17.9,34,2.2),(17.9,34.1,1.2),(16,31.8,2.9),
    (16.3,31.2,3.3),(19.8,32.6,2.7),(19.2,33.2,1.9),(10.7,33.9,2.9),(10.5,33.9,2),(10.5,34.1,1.2),(10.5,31.2,3.3),(14.1,29.6,.5),
    (1.5,29.8,2.6),(2.3,29.8,1.7),(3.4,29.8,2.9),(0,27.6,2.9),(3.1,27.8,2.8),(2.8,27.8,3.9),(2.8,27.8,2.9),(3,27.6,2.2),
    (5.1,26.7,2),(7,26.9,1.7),(8.8,27.4,2.2),(9.3,27.4,2.9),(10,27.4,2.4),(19.6,29.5,2.7),(18.2,28.1,2.9),(18.6,28.5,1.7),
    (19.5,25.9,2.9),(19.2,25.9,2.1),(2.3,25.1,3.9),(2.3,24.9,2.6),(3.7,25.1,1.5),(6.2,25,2),(7.8,24.8,1.9),(9.3,23.1,1.5),
    (7.2,22,.35),(8.9,21.2,.25),(11.8,21.1,1.8),(11.2,20.8,.5),(14.5,26.2,3.3),(15,24.3,2.9),(16,24.5,2.6),(15,23.5,2.9),
    (17.5,23,2.4),(15.5,20.8,2.4),(14.7,19.3,3.3),(15.2,19.5,1.9),(2.1,22.1,3.3),(2,21.1,2.9),(.4,20.3,3.1),(1.3,20.6,2.2),
    (-.1,17,2.9),(3,18.2,3.3),(5.3,18.8,2.7),(1.6,16,2.9),(2.6,16.8,2.1),(15.5,16.9,2.1),(17.8,15.4,2),(19.4,17.4,2.2),
    (7.3,13.7,1.7),(3.3,14.1,2.1),(3.9,12.7,2.1),(4.2,12.1,3),(3.9,12.7,1.4),(4.9,13.9,1.5),(.2,11.5,1.7),(0,10.5,1.5),
    (0,9.9,1.7),(14.6,12.3,2.4),(2.7,10,2.9),(3.2,8.9,1.9),(2.5,9.2,2.1),(7.8,10.7,.9),(9.1,9.9,.9),(10.4,10.4,.4),
    (7.8,8.9,.9),(16,10.5,2.1),(15.3,9,2.9),(16,9,1.7),(18.2,10.5,1.7),(18.4,8.9,2.2),(12.4,8.4,2.6),(12.4,8.4,1.4),
    (-.1,6.6,2.6),(1.6,7.4,2.2),(2.7,7.2,2.6),(1.5,6.6,1.5),(3.3,5.1,3.8),(3.3,5.1,2.9),(3.3,5.1,2.1),(3.3,5.1,1.4),
    (4.9,5.1,1.7),(1.5,5.1,1.7),(7.6,7,2.1),(7.6,5.4,2.1),(10.7,6,3.1),(10.7,6.2,1.9),(9.5,6,1.9),(8.8,3.6,2.5),
    (8.7,3.9,1.5),(8.7,4.1,.9),(14.7,6.2,2.5),(17.6,5.4,2.7),(19.8,5.4,2.2),(19.9,5.1,2.2),(1.5,3,1.7),(4.9,2.5,2.7),
    (6.9,2.2,1.2),(12.9,2.9,2.2),(12.1,2.1,1.5),(11,1.9,.9),(16.4,2,2.1),(18.2,2,2.7),(17.7,2,1.9),(19.8,2.9,2.4),
    (2.1,1.3,3.1),(4.7,1.5,2.6),(2.5,.1,2.2),(2.5,.1,1.5),(0,0,2),(9.2,.7,1.2),(10,1.2,1.4),(9.3,.9,.7),
    (14.5,0,2.3),
]
c1_light = [
    (7.4,58.9,1),(-.1,58.7,.7),(14.9,59,1.5),(14.9,59,.7),(19.8,60,.7),(11,54.8,1.7),(14.7,56.2,1.2),(3.9,55,.8),
    (4.6,54.5,.9),(17.7,52.5,1),(17.7,52.5,.5),(14.7,53.2,1.9),(16.2,51.3,.5),(4.3,51.3,.35),(7.1,51.2,.5),(8.1,49.3,1.5),
    (11.9,50.8,1.5),(11.4,51.7,.7),(9.8,47.3,2),(16.9,47.4,.5),(18.4,45.9,.8),(5,44.7,1),(9.8,45.2,1.4),(2.3,42.7,.4),
    (15.3,43.2,1.3),(14.9,44,.7),(18.2,44,2),(13.8,41.8,2.4),(1.2,38.7,.7),(1,37.6,.6),(3.2,34.5,.7),(10.5,30.9,.35),
    (10.4,29.8,.5),(-.1,31.6,.9),(1.8,31.6,1),(0,30,.9),(.4,26.7,.35),(7.5,27.4,.6),(7.5,26.6,.6),(14.7,26,2.6),
    (3.7,18.3,1.7),(7.6,17.4,2.8),(12.4,16.4,.6),(11.7,15.3,1.3),(11.9,12,1.1),(14.4,12.3,2.1),(9.7,8.9,.7),(12.7,8.5,.35),
    (17.9,.5,.5),(7.5,.3,1.9),(9.2,14.6,.3),
]
c2_dark = [
    (9.4,60,1.5),(9.2,60,.9),(9.2,60,.5),(1.7,56.6,1.9),(17.4,56.9,2.3),(20,57.5,2.7),(20,57.5,2.3),(20,55,2.5),
    (2.3,54.8,2.2),(2.8,54.9,1.2),(3.7,53.2,2.7),(1.3,52.9,2),(2.5,52.8,1),(6.3,53.4,2.3),(8.9,53.4,2.6),(9.6,53.8,1.5),
    (10.4,54.1,2.8),(9.2,53.4,2.9),(11.2,52.2,2.3),(15.2,54.1,2.5),(17.4,52,2.3),(20,51.3,2.2),(20,51.3,1.7),(18.2,49.8,2.2),
    (18.1,48.5,2.7),(16.4,47.3,2.2),(.7,51.2,1.4),(2.7,51.1,2.2),(1.6,50.4,1),(1.6,50.4,.5),(5.1,49.8,2.6),(13.6,49.4,2.8),
    (8.6,47.3,4.1),(8.1,47.5,2.6),(11.8,47.7,2.6),(11.9,46.9,3.3),(11.3,46,2.2),(14.3,46.5,2.2),(14.2,44.9,2.9),(14.5,44.6,2.6),
    (14.5,44.6,1.7),(18.1,44.7,2.2),(20,44.7,2.2),(18,43.3,2.2),(16.4,42.3,2.2),(19.7,41,2.5),(20,41,1.5),(2.8,41.5,1.6),
    (0,39.9,3.3),(1.3,39.9,1.9),(11.4,38.9,1.5),(15.6,39.1,2),(13.4,37.8,1.5),(18.1,36.5,2.6),(18.3,36.3,1.5),(1.9,37.7,2.8),
    (1,36.3,3.3),(1.5,37,1.7),(5.5,37.1,2.8),(5.5,36.3,3.3),(7,36.7,.5),(10.4,36.9,2.6),(8.6,35,2.1),(12,35,2.7),
    (13.8,34.1,2.9),(14.7,34.1,1.5),(10.4,33,2.6),(11.1,33.2,1.7),(13,32.7,3.3),(1.4,32.9,3.3),(5,33,2.9),(3,31.4,2.6),
    (6.2,32,2.1),(7.7,32.9,1.7),(5.7,32,1.7),(19.8,32.7,1.1),(16.8,31.4,1.7),(16.8,31.3,1.2),(12.3,30.6,2.6),(14.4,31.2,2.4),
    (7.6,30,2.2),(9.9,30.5,2.2),(11.3,29.7,3.9),(10.8,29.7,2.2),(10.6,29.7,1.7),(12,29.5,2.2),(18.7,29.7,2),(18,28.1,2.2),
    (.3,28.8,2.9),(1.4,27,2.9),(1,27,2.2),(2.2,27,2.9),(1.7,26.9,1.7),(.3,24.5,3.9),(0,25.3,2.9),(6.8,28.1,2.9),
    (7.2,27.4,2.9),(5.1,25.9,2.4),(11.8,26.9,2.9),(13.7,26.9,2.2),(15.1,26.9,2.2),(16.3,27.3,2.2),(17.3,25.9,2.6),(19.8,25.6,2),
    (7.2,23.2,2.9),(8.7,24.2,2.9),(11.5,24.8,2.6),(6.7,22.4,3.4),(17.9,23,2.9),(19.7,23,1.4),(18.3,22.1,1.4),(18.1,20.5,1.7),
    (0,19.9,3.4),(1.7,20.2,2.9),(3.4,18.7,2.9),(4.1,19.5,2.9),(4.6,19.1,2.2),(3.4,18.5,2.2),(5.5,19.5,1.5),(8.7,19.1,3.9),
    (8.6,19.9,2.1),(7.2,19.1,1.5),(10.6,20.2,2.2),(12.5,19.8,2.9),(13.5,20.8,1.5),(15.1,20.8,2.2),(16.3,20.6,1.9),(12.5,19.1,2.9),
    (15.8,19,3.3),(16,17.8,2.9),(.7,16.5,2.5),(8.6,15.2,3.3),(11,15.4,3.3),(13.2,15.1,2.9),(16.1,16.5,2.7),(17.1,16.7,2.9),
    (18,16.1,2.7),(18.9,15.5,3.4),(3.1,17.6,2.9),(3.2,14.6,3.3),(3.2,14,2.2),(3.1,13.5,2.9),(5.5,12.4,4.5),(5.1,12.6,2.9),
    (5.7,12.6,2.2),(6,12.4,3.3),(6,12,2.2),(4.8,11.3,2.2),(5.7,13.9,2.9),(7.9,10.5,2.9),(0,11,2.8),(11.5,10.5,3.3),
    (10.6,9.6,3.8),(11.3,10.9,2.2),(12,10.7,2.2),(10.3,10.1,2.7),(13.4,10.1,2.9),(14.7,10.1,2.2),(15.1,10.5,1.7),(17,9.2,3.4),
    (16.4,8,2.2),(18.9,7.8,2.8),(2.3,9.6,3.4),(.9,8,3.3),(1.7,8,2.9),(2.4,8.1,3.6),(3.1,7.6,3.6),(1.6,8,1.5),
    (7,7.8,3.6),(7.5,8.1,2.6),(9.3,7,2.2),(10.6,6.2,2.9),(11.5,6.2,1.5),(4.5,5,2.8),(4.5,5,1.2),(7.1,3.5,2.8),
    (13.8,5.7,2.7),(13.8,4,3.3),(13.8,4.2,2.2),(17.4,5.8,2.7),(17,5.5,1.7),(2.1,2.6,3.3),(.5,3.8,1),(.5,3.8,.6),
    (0,.3,3.3),(.2,.1,2.1),(1.2,.3,1.7),(4.6,.7,2.9),(6,.7,2.2),(6.2,.7,1.5),(8,.7,2),(9.6,.1,2.9),
    (10.8,1.1,2.9),(11.8,.7,2.4),(13.7,.9,2.6),(15.2,1.1,2.9),(16.9,1.1,3.4),(17.1,1.1,2.1),(18,.7,2.9),(16.9,1.3,1.7),
]
c2_light = [
    (12.6,57,1),(12.6,55.6,1.3),(20,57.5,1.5),(13.3,39.8,.7),(15.4,37.9,.7),(10.4,36,.9),(13.7,33.9,1.5),(17.2,32.5,.7),
    (18.3,32.3,.9),(12.4,30.6,.6),(17,10.5,2.5),(11.9,24.6,.3),
]
c3_dark = [
    (1.2,59.6,2.3),(4,59.2,2.3),(3.8,59.1,1.5),(1.8,56.9,2.6),(2.3,57.1,2.4),(1.9,57.1,1.7),(1.2,55,2.3),(1.2,53.8,2.6),
    (8.5,58,2.7),(10.1,58.8,2.2),(8.8,55,2.6),(10,55,2.7),(9.3,55,1.2),(14.8,60,2.5),(14.9,58.9,1.7),(17.1,60,2.2),
    (16.3,58.6,1.9),(19,57.5,2.6),(18.3,55.4,2.5),(18.2,55.4,2.2),(18.4,55.4,1.5),(19.3,55,2.2),(10.5,52.5,2.3),(10.6,52.1,1.2),
    (11.0,51.9,1),(12.3,51.4,2.2),(10.7,51.2,2),(10.4,50,2.5),(15.6,52.3,2.3),(17.3,52.3,1.7),(16.6,52.3,.6),(16.9,50,1.7),
    (19.7,49.5,.5),(4,51.1,1.1),(1.9,49.8,.35),(5.6,49,2.3),(5.4,49,1.4),(.3,47.8,.4),(9.8,47.9,2.7),(12,46.6,2.1),
    (15.7,47.6,1.9),(17.7,47.2,1.7),(16,47.6,1.2),(15.8,46.5,1.9),(14.5,44.9,2),(16.1,45.2,1.2),(7.5,46,1),(.2,43.9,2.2),
    (.2,43.8,1.9),(.2,43.8,2.2),(.1,41.6,2.8),(.3,42.6,2.2),(.2,43.2,1.7),(.8,42.3,1),(3,44.4,2.5),(3.2,44.2,1.9),
    (5.1,42.3,2.5),(5.1,42.2,2),(7.4,42.3,2.4),(9.6,43.6,2.5),(9.6,42.6,2.6),(8.6,41.6,2.1),(10.9,44.3,1.5),(10.3,44.1,.9),
    (13.6,42.3,2.2),(13.4,42.8,.8),(13.9,40,2.2),(15.4,40.2,2.5),(14.7,40,1),(9,40.3,2.2),(10.1,39.8,2.6),(9.5,40,1.3),
    (9,38.5,.9),(5.1,39.7,1.7),(7.5,38.1,2.4),(18.4,38.2,.6),(18.1,38.1,.25),(0,35.9,1.5),(5.2,36.5,1.4),(14,37.3,2),
    (13.9,35.5,2.6),(14.4,35.5,1.7),(15,35.5,1.7),(15,35.7,1),(15.8,35.1,1.9),(15.7,35.7,2.2),(16.9,35.7,2.1),(15.5,34.6,2.2),
    (15.7,34,2.4),(2.4,35,2.8),(3.9,34.3,2.7),(3.9,33.5,1.4),(6.8,34.7,2.5),(7.2,34.6,1.5),(7.9,34.4,2.1),(7.7,33.4,1.7),
    (9.9,33.7,1.7),(6.6,32.6,1.1),(8.8,33.7,.9),(0,33.4,1.9),(.6,32,2.7),(2.2,30.9,2.6),(4,31.7,1.7),(5.1,29.8,2.5),
    (11.4,31.3,2.5),(16.1,31.5,2.8),(16.6,29.8,2.1),(16.1,30,2.2),(16.9,29.8,2.9),(15.6,28.9,1.7),(16.4,28.1,1.9),(18,29.8,.9),
    (13.3,28.9,2.9),(13.4,28.9,2.1),(18.7,28.4,1.2),(19.8,29.8,2.3),(19.8,28.6,1.5),(0,27.8,2),(3.1,27,2.2),(0,25.4,2.1),
    (.9,25,1.9),(.2,24.8,1.2),(2.6,24.7,2.2),(2.1,23.6,3.3),(2.3,23.6,1.7),(2.1,24.8,1.4),(9.8,26.8,2.4),(9,25.2,2.6),
    (11.8,26.2,2.2),(11.9,26.2,1.4),(11.9,25,2.8),(9,24.7,1.4),(7.4,23.6,2.5),(15.5,25.5,2.6),(16.2,24.4,2),(18.7,24.1,1.4),
    (2.6,21,2.9),(2.6,20.9,2.4),(5.4,21.8,2.8),(6.1,22,1.5),(11.2,21.4,1.9),(12.1,22.1,1.4),(18.7,21.3,1.4),(18.1,21.4,1),
    (14.8,22.6,.5),(0,18.4,2.9),(.6,17.1,2.6),(2.6,18.2,2.2),(3.8,19,2.4),(9.1,19.6,2.4),(11.1,18.7,1.9),(8.5,17.2,2.6),
    (7.8,17.6,2.2),(11.9,17.9,2.5),(7.9,17.7,1.4),(20,17.8,2.5),(19,15.4,2.3),(.5,14.9,2.5),(1.7,13.3,2.6),(3.7,12.9,2.9),
    (4.2,12.5,2.2),(4.5,12.5,2.9),(4.2,12.5,1.7),(.2,11.5,2.5),(2.6,11.6,2.2),(3.1,10.8,2.9),(11.5,11.7,2.5),(11.5,11.6,2.9),
    (18.3,11.4,2.8),(17.7,9.7,2.8),(16.2,7.7,2.7),(16.7,7.1,2.6),(17.5,7.1,2.7),(19.1,8,2.8),(10,9.1,2.9),(8.1,7.3,2.8),
    (.1,4.9,2.8),(.1,4.8,1.9),(4.3,5.1,1.6),(5.5,4.6,2.3),(10.4,4.8,2.2),(11.7,4.4,2.2),(13.1,4.1,2.6),(12.4,4.4,2.2),
    (19.2,3.1,2.7),(19,1.9,2.6),(19.1,2,1.9),(8.6,2.2,1.4),(14.2,1.7,2.5),(14.1,.9,2.8),(3.1,1.7,2.6),(3.9,1.4,2.6),
    (3.5,1.7,2),(0,.1,2.5),
]
c3_light = [
    (1.4,59.7,.7),(.3,59.2,.5),(.6,56.5,.7),(.5,54.6,.4),(5.4,49,.5),(19,52.9,.5),(16.2,43.9,.4),(10.6,44,.35),
    (9.6,37.3,.5),(17.3,37.3,.5),(.9,36.8,.25),(16.2,31.9,.35),(5.1,29.8,.4),(1.9,29.1,.35),(2.9,29.1,.35),(11.9,26.2,.35),
    (6.4,13.4,.35),(6.4,12.1,.35),(13.7,18.6,.5),(14.3,17.5,.4),(18.5,17.6,.4),(10,14.8,.6),(18.6,13.8,.5),(10.6,11.7,.25),
    (3.6,9,.4),(2.5,7.8,.5),(1.6,6.7,.35),(1.6,6.4,.35),(11.1,7.2,.6),(12.3,7.5,.35),(4.6,5.3,.5),(8.7,3.8,.35),
    (16.7,1.5,.7),(12,1.6,2.2),(4.2,.4,.35),
]

y_ticks = [0, 10, 20, 30, 40, 50, 60]
y_tick_labels = ["0", "10", "20", "", "40", "50", "60"]
x_ticks = [0, 10, 20]
x_tick_labels = ["0", "10", "20"]

COLS = ["x", "y", "d"]
M_TO_PT = 19.5 * 72 / 300


def draw_trees(ax, rows, fill, edge, scale):
    # fills first, outlines after, the outlines stay visible through the crowns
    df = pd.DataFrame(rows, columns=COLS)
    df["s"] = (df["d"] * M_TO_PT * scale) ** 2
    sns.scatterplot(data=df, x="x", y="y", s=df["s"], color=fill, linewidth=0,
                    alpha=1, ax=ax, clip_on=False, legend=False)
    sns.scatterplot(data=df, x="x", y="y", s=df["s"], facecolor="none", edgecolor=edge,
                    linewidth=0.5, alpha=0.8, ax=ax, clip_on=False, legend=False)


sns.set_style("white")
plt.rcParams["font.family"] = ["Liberation Serif", "DejaVu Serif"]
plt.rcParams["mathtext.fontset"] = "custom"
plt.rcParams["mathtext.bf"] = "Liberation Serif:bold"

W, H = 3431, 3410
fig = plt.figure(figsize=(W / 300, H / 300), dpi=300, facecolor="white")


def fx(px):
    return px / W


def fy(py):
    return 1 - py / H


LIGHT = ("#b2b2b2", "#7d7d7d", 1.0)
DARK = ("#757575", "#454545", 1.07)

panels = [
    (166, 556, 92, 1262, [(a1_light, LIGHT)], True),
    (634, 1022, 92, 1262, [(a2_light, LIGHT)], False),
    (1100, 1490, 92, 1262, [(a3_light, LIGHT)], False),
    (2052, 2442, 96, 1265, [(b1_dark, DARK), (b1_light, LIGHT)], True),
    (2518, 2908, 96, 1265, [(b2_dark, DARK), (b2_light, LIGHT)], False),
    (2982, 3372, 96, 1265, [(b3_dark, DARK), (b3_light, LIGHT)], False),
    (166, 556, 1805, 2976, [(c1_dark, DARK), (c1_light, LIGHT)], True),
    (634, 1022, 1805, 2976, [(c2_dark, DARK), (c2_light, LIGHT)], False),
    (1100, 1490, 1805, 2976, [(c3_dark, DARK), (c3_light, LIGHT)], False),
]

for x0, x1, y0, y1, groups, first in panels:
    ax = fig.add_axes([fx(x0), fy(y1), fx(x1 - x0), (y1 - y0) / H])
    for rows, (fill, edge, scale) in groups:
        draw_trees(ax, rows, fill, edge, scale)
    ax.set_xlim(0, 20)
    ax.set_ylim(0, 60)
    ax.set_xticks(x_ticks, x_tick_labels)
    ax.set_yticks(y_ticks, y_tick_labels)
    ax.set_xlabel("")
    ax.set_ylabel("")
    ax.tick_params(axis="x", length=1.5, width=0.6, color="#999999", labelsize=13, pad=9.5,
                   labelcolor="#1a1a1a", bottom=True)
    ax.tick_params(axis="y", length=3.5, width=0.5, color="#666666", labelsize=12.5, pad=2.2,
                   labelcolor="#1a1a1a", left=True, labelleft=first)
    for side, col, lw in [("left", "#5a5a5a", 1.0), ("top", "#777777", 0.7),
                          ("right", "#a5a5a5", 1.1), ("bottom", "#888888", 0.7)]:
        ax.spines[side].set_visible(True)
        ax.spines[side].set_color(col)
        ax.spines[side].set_linewidth(lw)
        ax.spines[side].set_zorder(5)


def fig_text(px, py, s, size, **kw):
    fig.text(fx(px), fy(py), s, fontsize=size, ha="center", va="center", color="#1a1a1a", **kw)


for px, py in [(845, 1399), (2724, 1397), (832, 3112)]:
    fig_text(px, py, "X data (m)", 13.7)
for px, py in [(92, 688), (1982, 684), (92, 2398)]:
    fig_text(px, py, "Y data (m)", 13.2, rotation=90)
for px, py, lab in [(770, 1630, "a"), (2663, 1630, "b"), (770, 3343, "c")]:
    fig_text(px, py, r"($\mathbf{" + lab + "}$)", 19.5)

# leftovers of the pasted picture frames around the panels
frames = [
    ("#eeeeee", [(60, 100), (60, 1416), (722, 1416), (722, 1440), (1017, 1440), (1017, 1416), (1520, 1416)]),
    ("#c6c6c6", [(1945, 65), (1945, 503), (1925, 503), (1925, 827), (1945, 827), (1945, 1420),
                 (2577, 1420), (2577, 1444), (2900, 1444), (2900, 1420), (3398, 1420)]),
    ("#eeeeee", [(60, 1785), (60, 3133), (685, 3133), (685, 3155), (1007, 3155), (1007, 3133), (1518, 3133)]),
]
for col, pts in frames:
    fig.add_artist(Line2D([fx(p[0]) for p in pts], [fy(p[1]) for p in pts], color=col, lw=0.7))

# the source picture is cropped through the last tick label of panel b
fig.add_artist(Rectangle((fx(3398), fy(1380)), fx(33), 80 / H, transform=fig.transFigure,
                         facecolor="white", edgecolor="none", zorder=10))

fig.savefig("out.png", dpi=300, facecolor="white")
